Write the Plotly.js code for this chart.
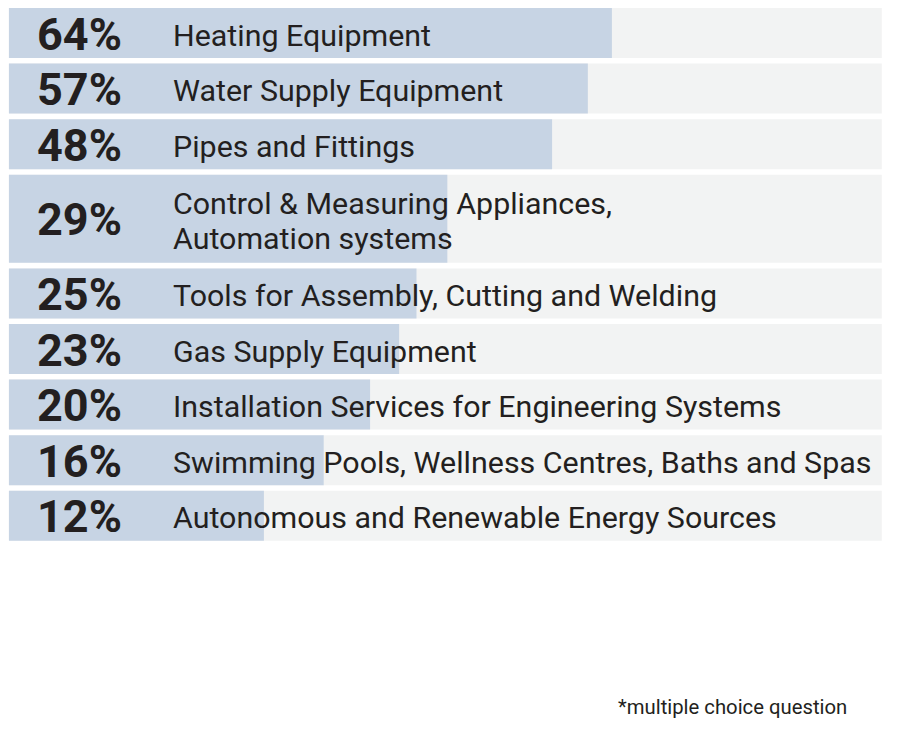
<!DOCTYPE html>
<html>
<head>
<meta charset="utf-8">
<script src="https://cdn.plot.ly/plotly-3.0.1.min.js"></script>
<style>
html,body{margin:0;padding:0;background:#fff;}
#chart{width:901px;height:735px;}
</style>
</head>
<body>
<div id="chart"></div>
<script>
// ---- data ----
const categories = [
  "Heating Equipment",
  "Water Supply Equipment",
  "Pipes and Fittings",
  "Control & Measuring Appliances,<br>Automation systems",
  "Tools for Assembly, Cutting and Welding",
  "Gas Supply Equipment",
  "Installation Services for Engineering Systems",
  "Swimming Pools, Wellness Centres, Baths and Spas",
  "Autonomous and Renewable Energy Sources"
];
const shares = [64, 57, 48, 29, 25, 23, 20, 16, 12];
const footnote = "*multiple choice question";

// ---- layout helpers ----
const W = 901, H = 735;
const BASE = 3.52;        // axis value at bar start
const FULL = 234.4;       // axis value at full-row end
const xRange = [0.5279, 2.4101];
const ROW_H = 50, ROW_H2 = 88, GAP = 5.6, TOP = 8;
const LINE_H = 35;

const centers = [], heights = [];
let y = TOP;
categories.forEach(c => {
  const h = c.includes("<br>") ? ROW_H2 : ROW_H;
  centers.push(y + h / 2);
  heights.push(h);
  y += h + GAP;
});

const bg = {
  type: "bar", orientation: "h",
  y: centers, x: categories.map(() => FULL - BASE), base: BASE,
  width: heights,
  marker: {color: "#f2f3f3", line: {width: 0}},
  hoverinfo: "skip", showlegend: false
};
const fg = {
  type: "bar", orientation: "h",
  y: centers, x: shares.map(v => v - BASE), base: BASE,
  width: heights,
  marker: {color: "#c7d4e4", line: {width: 0}},
  hoverinfo: "skip", showlegend: false
};

const FONT = "Roboto, 'Open Sans', sans-serif";
const annotations = [];
shares.forEach((v, i) => {
  annotations.push({
    xref: "paper", yref: "y", x: 35 / W, y: centers[i],
    xanchor: "left", yanchor: "middle", showarrow: false, yshift: -1,
    text: "<b>" + v + "%</b>",
    font: {family: FONT, size: 45, color: "#231f20"}
  });
  const lines = categories[i].split("<br>");
  lines.forEach((ln, k) => {
    annotations.push({
      xref: "paper", yref: "y", x: 171 / W,
      y: centers[i] + (k - (lines.length - 1) / 2) * LINE_H,
      xanchor: "left", yanchor: "middle", align: "left", showarrow: false, yshift: -2,
      text: ln,
      font: {family: FONT, size: 30.4, color: "#231f20"}
    });
  });
});
annotations.push({
  xref: "paper", yref: "y", x: 616 / W, y: 707,
  xanchor: "left", yanchor: "middle", showarrow: false,
  text: footnote,
  font: {family: FONT, size: 20.3, color: "#231f20"}
});

const layout = {
  width: W, height: H,
  margin: {l: 0, r: 0, t: 0, b: 0, pad: 0},
  paper_bgcolor: "#ffffff", plot_bgcolor: "#ffffff",
  barmode: "overlay",
  xaxis: {type: "log", range: xRange, visible: false, fixedrange: true},
  yaxis: {range: [H, 0], visible: false, fixedrange: true},
  annotations: annotations,
  showlegend: false
};

Plotly.newPlot("chart", [bg, fg], layout, {displayModeBar: false, staticPlot: true});
</script>
</body>
</html>
